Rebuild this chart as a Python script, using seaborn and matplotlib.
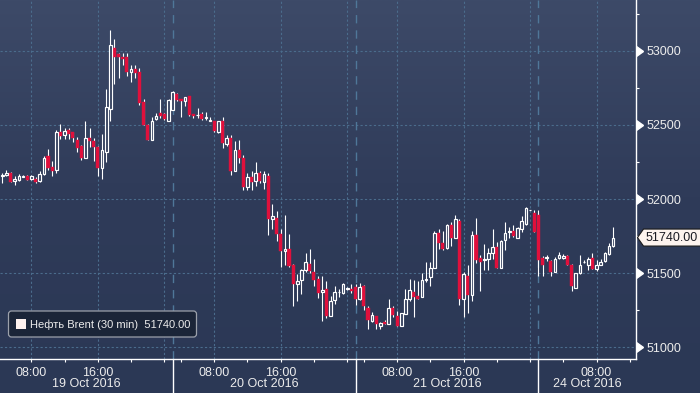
import numpy as np
import pandas as pd
import matplotlib
matplotlib.use("Agg")
import matplotlib.pyplot as plt
import matplotlib.transforms as mtransforms
import seaborn as sns
from matplotlib.patches import FancyBboxPatch, Polygon, Rectangle
from matplotlib.colors import LinearSegmentedColormap

# ---------------- data (30-min candles) ----------------
opens = [52155, 52164, 52178, 52124, 52128, 52151, 52153, 52133, 52135, 52119,
         52167, 52291, 52219, 52194, 52455, 52432, 52468, 52453, 52401, 52360,
         52277, 52412, 52394, 52354, 52207, 52315, 52608, 53020, 52977, 52959,
         52957, 52857, 52876, 52857, 52652, 52502, 52398, 52539, 52582, 52570,
         52527, 52602, 52710, 52672, 52661, 52692, 52570, 52564, 52570, 52546,
         52528, 52523, 52450, 52523, 52371, 52414, 52186, 52333, 52278, 52082,
         52150, 52122, 52177, 52118, 52156, 51864, 51869, 51764, 51651, 51662,
         51556, 51427, 51451, 51518, 51560, 51511, 51462, 51371, 51393, 51211,
         51322, 51371, 51367, 51394, 51394, 51406, 51327, 51412, 51264, 51179,
         51208, 51145, 51172, 51158, 51262, 51210, 51145, 51226, 51325, 51370,
         51345, 51340, 51455, 51471, 51538, 51774, 51700, 51671, 51828, 51738,
         51852, 51327, 51482, 51350, 51756, 51601, 51592, 51594, 51639, 51679,
         51538, 51722, 51778, 51785, 51740, 51796, 51830, 51926, 51904, 51892,
         51601, 51603, 51583, 51511, 51601, 51601, 51617, 51556, 51403, 51498,
         51572, 51556, 51601, 51529, 51558, 51579, 51628, 51680]
highs = [52174, 52198, 52180, 52155, 52171, 52162, 52160, 52164, 52146, 52189,
         52291, 52336, 52259, 52468, 52507, 52480, 52480, 52455, 52417, 52367,
         52523, 52482, 52414, 52358, 52441, 52743, 53142, 53077, 52986, 52982,
         52982, 52903, 52903, 52882, 52672, 52507, 52552, 52579, 52672, 52582,
         52674, 52729, 52715, 52672, 52690, 52692, 52570, 52611, 52590, 52588,
         52552, 52527, 52525, 52552, 52432, 52432, 52394, 52401, 52299, 52172,
         52190, 52251, 52190, 52186, 52175, 51967, 51922, 51800, 51889, 51762,
         51562, 51496, 51529, 51636, 51662, 51596, 51478, 51482, 51444, 51349,
         51411, 51396, 51433, 51404, 51426, 51430, 51433, 51419, 51277, 51241,
         51210, 51170, 51183, 51325, 51277, 51244, 51232, 51392, 51460, 51453,
         51446, 51498, 51574, 51572, 51783, 51801, 51783, 51833, 51844, 51891,
         51863, 51511, 51556, 51785, 51872, 51623, 51695, 51668, 51798, 51708,
         51724, 51843, 51809, 51825, 51812, 51886, 51946, 51928, 51926, 51928,
         51617, 51623, 51587, 51612, 51641, 51628, 51619, 51561, 51502, 51619,
         51592, 51610, 51633, 51592, 51597, 51644, 51705, 51812]
lows = [52108, 52155, 52112, 52092, 52124, 52146, 52128, 52128, 52106, 52115,
        52164, 52198, 52153, 52176, 52403, 52403, 52403, 52383, 52320, 52261,
        52275, 52354, 52257, 52158, 52137, 52252, 52525, 52775, 52816, 52903,
        52828, 52792, 52817, 52631, 52498, 52398, 52398, 52530, 52545, 52536,
        52525, 52597, 52661, 52552, 52624, 52563, 52545, 52545, 52536, 52534,
        52525, 52455, 52448, 52342, 52360, 52159, 52186, 52240, 52061, 52061,
        52063, 52088, 52111, 52070, 51760, 51798, 51716, 51544, 51556, 51540,
        51278, 51311, 51356, 51507, 51504, 51411, 51333, 51178, 51196, 51211,
        51291, 51340, 51362, 51389, 51367, 51282, 51318, 51250, 51125, 51170,
        51125, 51122, 51156, 51156, 51206, 51143, 51143, 51224, 51313, 51206,
        51325, 51336, 51437, 51415, 51534, 51660, 51655, 51662, 51684, 51736,
        51287, 51206, 51233, 51314, 51567, 51381, 51522, 51522, 51594, 51538,
        51534, 51657, 51735, 51747, 51735, 51780, 51825, 51924, 51780, 51478,
        51478, 51585, 51484, 51507, 51596, 51596, 51552, 51377, 51401, 51493,
        51570, 51520, 51525, 51516, 51552, 51574, 51621, 51675]
closes = [52160, 52178, 52117, 52137, 52155, 52155, 52131, 52153, 52117, 52169,
          52279, 52207, 52191, 52453, 52428, 52459, 52435, 52410, 52347, 52275,
          52412, 52390, 52349, 52207, 52333, 52622, 53036, 52957, 52957, 52941,
          52857, 52876, 52851, 52647, 52498, 52398, 52527, 52561, 52559, 52539,
          52670, 52724, 52670, 52661, 52690, 52566, 52559, 52566, 52539, 52550,
          52532, 52457, 52523, 52376, 52414, 52186, 52333, 52274, 52082, 52150,
          52118, 52177, 52122, 52170, 51864, 51882, 51762, 51651, 51664, 51549,
          51429, 51449, 51522, 51573, 51516, 51451, 51367, 51387, 51211, 51313,
          51376, 51376, 51429, 51398, 51379, 51327, 51406, 51277, 51185, 51221,
          51158, 51167, 51158, 51262, 51217, 51145, 51228, 51329, 51383, 51338,
          51327, 51457, 51460, 51538, 51774, 51700, 51666, 51824, 51738, 51862,
          51327, 51493, 51350, 51756, 51590, 51578, 51596, 51635, 51675, 51538,
          51715, 51774, 51782, 51753, 51803, 51852, 51942, 51926, 51780, 51590,
          51556, 51607, 51511, 51594, 51623, 51617, 51556, 51410, 51498, 51558,
          51576, 51597, 51529, 51558, 51576, 51639, 51680, 51740]

# candle index where a new trading session starts
session_starts = [41, 85, 129]
date_labels = ["19 Oct 2016", "20 Oct 2016", "21 Oct 2016", "24 Oct 2016"]
# ticks every 4 hours (candle index)
hour_ticks = [7, 15, 23, 31, 39, 43, 51, 59, 67, 75, 83, 87, 95, 103, 111, 119, 127, 135, 143, 151]
label_ticks = [7, 23, 51, 67, 95, 111, 143]
label_texts = ["08:00", "16:00", "08:00", "16:00", "08:00", "16:00", "08:00"]
grid_x = [7, 23, 39, 51, 67, 83, 95, 111, 127, 143]
y_major = [51000, 51500, 52000, 52500, 53000]
y_minor = [51250, 51750, 52250, 52750, 53250]
series_name = "Нефть Brent (30 min)"

df = pd.DataFrame({"open": opens, "high": highs, "low": lows, "close": closes})
df["x"] = np.arange(len(df))
last_price = df["close"].iloc[-1]

# ---------------- style ----------------
sns.set_theme(style="dark")
plt.rcParams['font.family'] = ['Liberation Sans', 'DejaVu Sans']
plt.rcParams['lines.scale_dashes'] = False

W, H = 700, 393
fig = plt.figure(figsize=(7, 3.93), dpi=100)

# background gradient
bg = fig.add_axes([0, 0, 1, 1], zorder=0)
grad = np.linspace(0, 1, 256).reshape(-1, 1)
cmap = LinearSegmentedColormap.from_list("bg", ["#3d4a68", "#2f3b59", "#2b3855"])
bg.imshow(grad, aspect='auto', cmap=cmap, extent=[0, 1, 0, 1], origin='upper')
bg.set_xlim(0, 1); bg.set_ylim(0, 1)
bg.axis('off')

ax_bottom = 1 - 359.3 / H
ax = fig.add_axes([0, ax_bottom, 636 / W, 1 - ax_bottom], zorder=1)
ax.patch.set_alpha(0)
ax.set_xlim(-0.55, 152.5)
ax.set_ylim(50919, 53342)

gridc = "#4b6c8c"
for yv in y_major:
    ax.axhline(yv, color=gridc, lw=0.8, dashes=(1.6, 1.6), zorder=1)
for xv in grid_x:
    ax.axvline(xv, color=gridc, lw=0.8, dashes=(1.6, 1.6), zorder=1)
for s in session_starts:
    ax.axvline(s, color="#4f7799", lw=1.0, dashes=(6, 5), zorder=1)

# candles
up = df[df["close"] >= df["open"]]
dn = df[df["close"] < df["open"]]
ax.vlines(df["x"], df["low"], df["high"], color="white", lw=0.8, zorder=2)
ax.bar(dn["x"], dn["open"] - dn["close"], bottom=dn["close"], width=0.74,
       color="#e0103c", edgecolor="#e0103c", linewidth=0.3, zorder=3)
ax.bar(up["x"], up["close"] - up["open"], bottom=up["open"], width=0.64,
       facecolor="#333f5d", edgecolor="white", linewidth=0.85, zorder=3)

# spines
for sp in ["top", "left"]:
    ax.spines[sp].set_visible(False)
for sp in ["bottom", "right"]:
    ax.spines[sp].set_visible(True)
    ax.spines[sp].set_color("white")
    ax.spines[sp].set_linewidth(1.0)

# y axis on right
ax.yaxis.tick_right()
ax.set_yticks(y_major)
ax.set_yticklabels([str(v) for v in y_major])
ax.set_yticks(y_minor, minor=True)
ax.tick_params(axis='y', which='major', length=0, pad=7.5, labelcolor="#ececec",
               labelsize=9)
ax.tick_params(axis='y', which='minor', length=2.4, width=0.8, color="white",
               direction='out', right=True, left=False)
ax.plot([1.0] * len(y_major), y_major, ls='none', marker=9, ms=7, color="white",
        transform=ax.get_yaxis_transform(), clip_on=False, zorder=5)

# x axis
ax.set_xticks(hour_ticks)
lab_map = dict(zip(label_ticks, label_texts))
ax.set_xticklabels([lab_map.get(t, "") for t in hour_ticks])
ax.tick_params(axis='x', which='major', length=2.4, width=0.8, color="white",
               direction='out', pad=3.5, labelcolor="#ececec", labelsize=9,
               bottom=True)
ax.grid(False)

blend = mtransforms.blended_transform_factory(ax.transData, fig.transFigure)
bounds = [ax.get_xlim()[0]] + session_starts + [ax.get_xlim()[1]]
for i, lab in enumerate(date_labels):
    mid = (bounds[i] + bounds[i + 1]) / 2
    fig.text(mid, 1 - 384 / H, lab, transform=blend, ha='center', va='center',
             color="#ececec", fontsize=9, zorder=6)
for s in session_starts:
    ax.plot([s, s], [0, ax_bottom], transform=blend, color="white", lw=1.0,
            clip_on=False, zorder=6)

# legend box (pixel coords)
ident = mtransforms.IdentityTransform()
leg = FancyBboxPatch((8.5, H - 337), 188, 26, boxstyle="round,pad=0,rounding_size=3",
                     facecolor="#1b2538", edgecolor="#9ca1ab", lw=0.9,
                     transform=ident, zorder=7)
fig.add_artist(leg)
sq = Rectangle((16, H - 329), 10, 10, facecolor="#fdf1ee", edgecolor="none",
               transform=ident, zorder=8)
fig.add_artist(sq)
fig.text(30 / W, 1 - 324.5 / H, f"{series_name}  {last_price:.2f}", color="#ececec",
         fontsize=8.0, ha='left', va='center', zorder=8)

# last price tag
fig.canvas.draw()
yc = ax.transData.transform((0, last_price))[1]
x0 = 637.5
tag = Polygon([(x0, yc), (x0 + 6, yc + 8.5), (W + 2, yc + 8.5), (W + 2, yc - 8.5),
               (x0 + 6, yc - 8.5)], closed=True, facecolor="#fdf3ee",
              edgecolor="#1a1a1a", lw=0.8, transform=ident, zorder=8)
fig.add_artist(tag)
fig.text(646 / W, yc / H, f"{last_price:.2f}", color="#1a1a22", fontsize=9,
         ha='left', va='center', zorder=9)

fig.savefig("out.png", dpi=100)
